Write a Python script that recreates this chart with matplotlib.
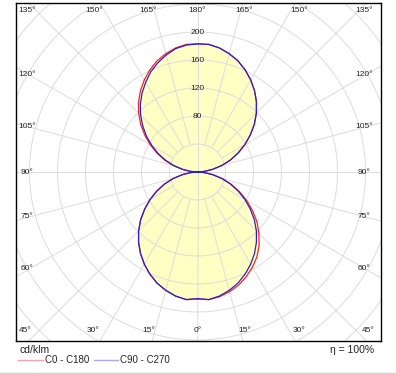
import numpy as np
import matplotlib
matplotlib.use("Agg")
from matplotlib import pyplot as plt

plt.rcParams['font.family'] = ['Liberation Sans', 'DejaVu Sans']

# gamma angles (deg), intensities in cd/klm
gamma = list(range(0, 181, 5))

c0 = [181, 183, 181, 177, 172, 165, 157, 148, 137, 124, 111, 96, 81, 66, 51, 37, 23, 10, 0,
      10, 22, 36, 50, 64, 78, 92, 106, 119, 131, 142, 152, 161, 169, 175, 180, 183, 183]
c180 = [181, 183, 180, 175, 169, 161, 152, 142, 131, 119, 106, 92, 78, 64, 50, 36, 22, 10, 0,
        10, 22, 36, 50, 64, 78, 92, 106, 119, 131, 142, 152, 161, 169, 175, 180, 183, 183]
c90 = [181, 183, 180, 175, 169, 161, 152, 142, 131, 119, 106, 92, 78, 64, 50, 36, 22, 10, 0,
       10, 22, 36, 50, 64, 78, 92, 106, 119, 131, 142, 152, 161, 169, 175, 180, 183, 183]
c270 = [181, 183, 180, 175, 169, 161, 152, 142, 131, 119, 106, 92, 78, 64, 50, 36, 22, 10, 0,
        10, 21, 35, 48, 62, 75, 89, 102, 115, 127, 138, 148, 158, 166, 173, 179, 182, 183]

ring_labels = [80, 120, 160, 200]
top_labels = ["135°", "150°", "165°", "180°", "165°", "150°", "135°"]
side_labels = ["120°", "105°", "90°", "75°", "60°"]
bottom_labels = ["45°", "30°", "15°", "0°", "15°", "30°", "45°"]
legend_names = ["C0 - C180", "C90 - C270"]
unit_label = "cd/klm"
eff_label = "η = 100%"

W, H = 396, 374
fig = plt.figure(figsize=(W / 100, H / 100), dpi=100)
# frame in pixels: x 15.5..380.5, y 3..341
fl, fr, ft, fb = 15.5, 380.5, 3, 341
ax = fig.add_axes([fl / W, 1 - fb / H, (fr - fl) / W, (fb - ft) / H])
scale = 0.70  # px per cd/klm
cx, cy = 197.5, 172
ax.set_xlim((fl - cx) / scale, (fr - cx) / scale)
ax.set_ylim((cy - fb) / scale, (cy - ft) / scale)
ax.set_xticks([])
ax.set_yticks([])
for s in ax.spines.values():
    s.set_linewidth(1.0)
    s.set_color('black')


def to_xy(right, left):
    g = np.radians(gamma)
    r = np.array(right, float)
    l = np.array(left, float)
    x = np.concatenate([r * np.sin(g), -l[::-1] * np.sin(g[::-1])])
    y = np.concatenate([-r * np.cos(g), -l[::-1] * np.cos(g[::-1])])
    return x, y


x_red, y_red = to_xy(c0, c180)
x_blue, y_blue = to_xy(c90, c270)

fill_col = '#ffffc4'
ax.fill(x_red, y_red, color=fill_col, lw=0, zorder=1)
ax.fill(x_blue, y_blue, color=fill_col, lw=0, zorder=1)

# grid
grid_col = '#dcdcdc'
t = np.linspace(0, 2 * np.pi, 400)
for r in range(40, 400, 40):
    ax.plot(r * np.cos(t), r * np.sin(t), color=grid_col, lw=0.7, zorder=2)
for a in range(0, 360, 15):
    ar = np.radians(a)
    r0 = 0 if a % 90 == 0 else 40
    ax.plot([r0 * np.cos(ar), 500 * np.cos(ar)], [r0 * np.sin(ar), 500 * np.sin(ar)],
            color=grid_col, lw=0.7, zorder=2)

ax.plot(x_red, y_red, color='#ff2020', lw=0.9, zorder=3)
ax.plot(x_blue, y_blue, color='#2a1fd0', lw=0.9, zorder=4)

for v in ring_labels:
    ax.text(0, v, str(v), ha='center', va='center', fontsize=6, color='#222222', zorder=5)


def px_text(px, py, s, **kw):
    ax.text((px - fl) / (fr - fl), (fb - py) / (fb - ft), s, transform=ax.transAxes,
            ha='center', va='center', fontsize=6, color='#222222', zorder=5, **kw)


for px, s in zip([27, 94, 148, 197, 244, 299, 364], top_labels):
    px_text(px, 10, s)
for py, s in zip([75, 127, 172, 216, 268], side_labels):
    px_text(27, py, s)
    px_text(364, py, s)
for px, s in zip([25, 93, 149, 198, 245, 299, 368], bottom_labels):
    px_text(px, 331, s)

# legend area below the frame
fig.text(20 / W, 1 - 350 / H, unit_label, ha='left', va='center', fontsize=7.5, color='#222222')
fig.text(374 / W, 1 - 350 / H, eff_label, ha='right', va='center', fontsize=7.5, color='#222222')
for (x0, x1), name, col in zip([(18, 43), (94, 118)], legend_names, ['#f4a0b0', '#a8a8f4']):
    fig.add_artist(plt.Line2D([x0 / W, x1 / W], [1 - 360 / H] * 2, color=col, lw=1.0))
    fig.text((x1 + 2) / W, 1 - 360 / H, name, ha='left', va='center', fontsize=7, color='#222222')
fig.add_artist(plt.Line2D([0, 1], [1 - 372.5 / H] * 2, color='#d0d0d0', lw=1.0))

fig.savefig('out.png', dpi=100)
